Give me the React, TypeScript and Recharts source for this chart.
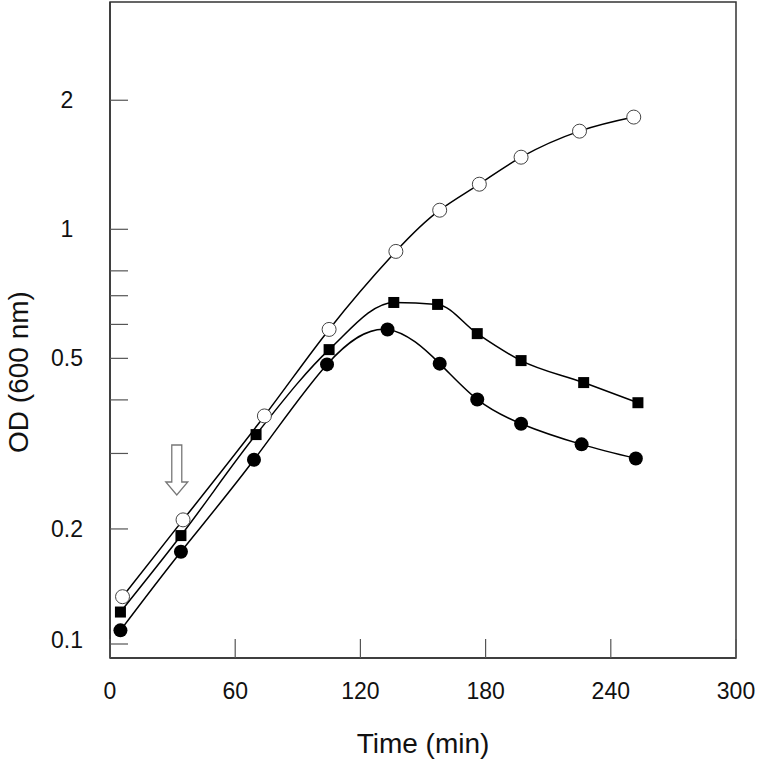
import React from "react";
import {
    LineChart,
    Line,
    XAxis,
    YAxis,
    ReferenceArea,
    ReferenceDot,
} from "recharts";

// Open circles
const openTimes = [6, 35, 74, 105, 137, 158, 177, 197, 225, 251];
const openOd = [0.139, 0.21, 0.367, 0.584, 0.888, 1.108, 1.274, 1.473, 1.694, 1.827];

// Filled squares
const squareTimes = [5, 34, 70, 105, 136, 157, 176, 197, 227, 253];
const squareOd = [0.128, 0.193, 0.332, 0.524, 0.675, 0.668, 0.571, 0.494, 0.439, 0.394];

// Filled circles
const filledTimes = [5, 34, 69, 104, 133, 158, 176, 197, 226, 252];
const filledOd = [0.116, 0.177, 0.29, 0.484, 0.584, 0.486, 0.401, 0.352, 0.315, 0.292];

const xTicks = [0, 60, 120, 180, 240, 300];
const yTicks = [0.1, 0.2, 0.3, 0.4, 0.5, 0.6, 0.7, 0.8, 0.9, 1, 2];
const yLabeled = [0.1, 0.2, 0.5, 1, 2];
const yDomain = [0.1, 3.39];

// arrow marking the addition time (tip position)
const arrowTime = 32;
const arrowOd = 0.24;

const FONT = "'Liberation Sans', Arial, sans-serif";
const AXIS = "#333";

const toPoints = (ts: number[], vs: number[]) => ts.map((t, i) => ({ t, od: vs[i] }));

const openData = toPoints(openTimes, openOd);
const squareData = toPoints(squareTimes, squareOd);
const filledData = toPoints(filledTimes, filledOd);

const YTick = (props: any) => {
    const { x, y, payload } = props;
    const v = payload.value;
    const axisX = x + 43;
    // the 0.1 tick sits a bit above the frame bottom in the original
    const shift = v === 0.1 ? -14 : 0;
    const yy = y + shift;
    return (
        <g>
            <line x1={axisX} x2={axisX + 18} y1={yy} y2={yy} stroke="#555" strokeWidth={1.2} />
            {yLabeled.includes(v) && (
                <text
                    x={x}
                    y={v === 0.1 ? yy - 4 : yy}
                    textAnchor="middle"
                    dominantBaseline="central"
                    fontFamily={FONT}
                    fontSize={23}
                    fill="#111"
                >
                    {v}
                </text>
            )}
        </g>
    );
};

const XTick = (props: any) => {
    const { x, y, payload } = props;
    return (
        <g>
            <line x1={x} x2={x} y1={y} y2={y - 19} stroke="#555" strokeWidth={1.2} />
            <text
                x={x}
                y={y + 33}
                textAnchor="middle"
                dominantBaseline="central"
                fontFamily={FONT}
                fontSize={23}
                fill="#111"
            >
                {payload.value}
            </text>
        </g>
    );
};

const SquareDot = (props: any) => {
    const { cx, cy } = props;
    if (cx == null || cy == null) return null;
    return <rect x={cx - 5.5} y={cy - 5.5} width={11} height={11} fill="#000" />;
};

const DownArrow = (props: any) => {
    const { cx, cy } = props;
    const d = `M${cx - 5},${cy - 50} L${cx + 5},${cy - 50} L${cx + 5},${cy - 13} L${cx + 11},${cy - 13} L${cx},${cy} L${cx - 11},${cy - 13} L${cx - 5},${cy - 13} Z`;
    return <path d={d} fill="#fff" stroke="#777" strokeWidth={1.3} />;
};

export default function App() {
    return (
        <div style={{ position: "absolute", left: 0, top: 0, background: "#fff" }}>
            <LineChart
                width={760}
                height={760}
                margin={{ top: 2, right: 24, left: 0, bottom: 0 }}
            >
                <XAxis
                    dataKey="t"
                    type="number"
                    domain={[0, 300]}
                    ticks={xTicks}
                    height={102}
                    tickSize={0}
                    tickMargin={0}
                    tickLine={false}
                    axisLine={{ stroke: AXIS, strokeWidth: 1.5 }}
                    tick={<XTick />}
                    label={{
                        content: ({ viewBox }: any) => (
                            <text
                                x={viewBox.x + viewBox.width / 2}
                                y={viewBox.y + 85}
                                textAnchor="middle"
                                dominantBaseline="central"
                                fontFamily={FONT}
                                fontSize={28}
                                fill="#111"
                            >
                                Time (min)
                            </text>
                        ),
                    }}
                />
                <YAxis
                    type="number"
                    scale="log"
                    domain={yDomain}
                    allowDataOverflow
                    ticks={yTicks}
                    width={110}
                    tickSize={0}
                    tickMargin={43}
                    tickLine={false}
                    axisLine={{ stroke: AXIS, strokeWidth: 1.5 }}
                    tick={<YTick />}
                    label={{
                        content: ({ viewBox }: any) => {
                            const lx = viewBox.x + 18;
                            const ly = viewBox.y + viewBox.height / 2 + 42;
                            return (
                                <text
                                    x={lx}
                                    y={ly}
                                    transform={`rotate(-90, ${lx}, ${ly})`}
                                    textAnchor="middle"
                                    dominantBaseline="central"
                                    fontFamily={FONT}
                                    fontSize={28}
                                    fill="#111"
                                >
                                    OD (600 nm)
                                </text>
                            );
                        },
                    }}
                />
                <ReferenceArea
                    x1={0}
                    x2={300}
                    y1={yDomain[0]}
                    y2={yDomain[1]}
                    fill="none"
                    stroke={AXIS}
                    strokeWidth={1.5}
                />
                <ReferenceDot x={arrowTime} y={arrowOd} r={1} shape={<DownArrow />} />
                <Line
                    data={openData}
                    dataKey="od"
                    type="natural"
                    stroke="#000"
                    strokeWidth={1.5}
                    dot={{ r: 7, fill: "#fff", stroke: "#444", strokeWidth: 1 }}
                    isAnimationActive={false}
                />
                <Line
                    data={squareData}
                    dataKey="od"
                    type="monotone"
                    stroke="#000"
                    strokeWidth={1.5}
                    dot={<SquareDot />}
                    isAnimationActive={false}
                />
                <Line
                    data={filledData}
                    dataKey="od"
                    type="natural"
                    stroke="#000"
                    strokeWidth={1.5}
                    dot={{ r: 7, fill: "#000", stroke: "#000", strokeWidth: 0 }}
                    isAnimationActive={false}
                />
            </LineChart>
        </div>
    );
}
